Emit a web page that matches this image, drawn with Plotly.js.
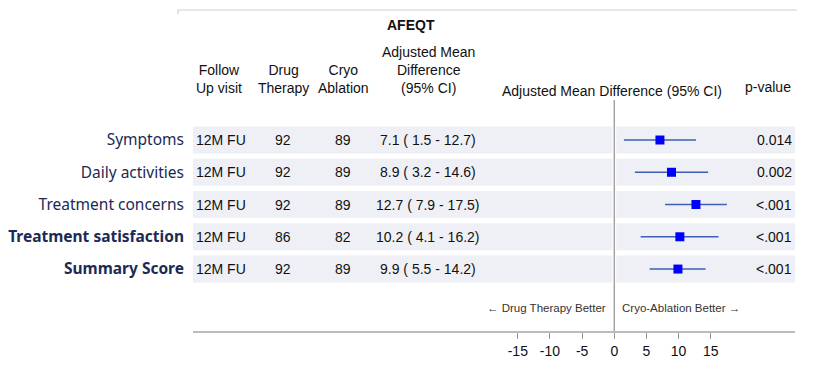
<!DOCTYPE html>
<html><head><meta charset="utf-8">
<script src="https://cdn.plot.ly/plotly-3.0.1.min.js"></script>
<style>html,body{margin:0;padding:0;background:#fff}#chart{width:815px;height:369px}</style>
</head><body><div id="chart"></div>
<script>
const categories = ['Symptoms','Daily activities','Treatment concerns','Treatment satisfaction','Summary Score'];
const boldRows = [false,false,false,true,true];
const followUp = ['12M FU','12M FU','12M FU','12M FU','12M FU'];
const drugN = [92,92,92,86,92];
const cryoN = [89,89,89,82,89];
const meanDiff = [7.1,8.9,12.7,10.2,9.9];
const lowerCI = [1.5,3.2,7.9,4.1,5.5];
const upperCI = [12.7,14.6,17.5,16.2,14.2];
const pValues = ['0.014','0.002','<.001','<.001','<.001'];
const xTicks = [-15,-10,-5,0,5,10,15];

const n = categories.length;
const ys = categories.map((_, i) => n - i);

const W = 815, L = 193, R = 20, T = 100, B = 38;
const plotW = W - L - R, plotH = 369 - T - B;
const px = p => (p - L) / plotW;            // pixel x -> paper x
const py = p => (369 - B - p) / plotH;      // pixel y -> paper y

const tableFont = {family: 'Liberation Sans, Arial, sans-serif', size: 14, color: '#111'};
const headFont = {family: 'Liberation Sans, Arial, sans-serif', size: 14, color: '#111'};
const noteFont = {family: 'Liberation Sans, Arial, sans-serif', size: 11.5, color: '#333'};

const trace = {
  type: 'scatter', mode: 'markers',
  x: meanDiff, y: ys,
  marker: {symbol: 'square', size: 9, color: '#0000ff'},
  error_x: {type: 'data', symmetric: false,
    array: meanDiff.map((m, i) => upperCI[i] - m),
    arrayminus: meanDiff.map((m, i) => m - lowerCI[i]),
    color: '#3d5fb5', thickness: 1.5, width: 0},
  hoverinfo: 'skip', cliponaxis: false
};

const shapes = [];
ys.forEach(y => {
  shapes.push({type: 'rect', xref: 'paper', yref: 'y', x0: 0, x1: px(795), y0: y - 0.42, y1: y + 0.42,
    fillcolor: '#eff0f6', line: {width: 0}, layer: 'below'});
});
shapes.push({type: 'line', xref: 'x', yref: 'paper', x0: 0, x1: 0, y0: 0, y1: 1, line: {color: '#ffffff', width: 4}, layer: 'below'});
shapes.push({type: 'line', xref: 'x', yref: 'paper', x0: 0, x1: 0, y0: 0, y1: 1, line: {color: '#999999', width: 1.3}, layer: 'below'});
shapes.push({type: 'line', xref: 'paper', yref: 'paper', x0: px(178), x1: px(797), y0: py(10), y1: py(10), line: {color: '#d0d0d0', width: 1.2}});
shapes.push({type: 'line', xref: 'paper', yref: 'paper', x0: px(178), x1: px(178), y0: py(10), y1: py(14), line: {color: '#d0d0d0', width: 1.2}});

const ann = [];
ys.forEach((y, i) => {
  ann.push({xref: 'paper', yref: 'y', x: px(194), y: y, text: followUp[i], showarrow: false, xanchor: 'left', yanchor: 'middle', font: tableFont});
  ann.push({xref: 'paper', yref: 'y', x: px(283), y: y, text: String(drugN[i]), showarrow: false, xanchor: 'center', yanchor: 'middle', font: tableFont});
  ann.push({xref: 'paper', yref: 'y', x: px(343), y: y, text: String(cryoN[i]), showarrow: false, xanchor: 'center', yanchor: 'middle', font: tableFont});
  ann.push({xref: 'paper', yref: 'y', x: px(428), y: y, text: `${meanDiff[i]} ( ${lowerCI[i]} - ${upperCI[i]})`, showarrow: false, xanchor: 'center', yanchor: 'middle', font: tableFont});
  ann.push({xref: 'paper', yref: 'y', x: px(794), y: y, text: pValues[i], showarrow: false, xanchor: 'right', yanchor: 'middle', font: tableFont});
});
ann.push({xref: 'paper', yref: 'paper', x: px(411), y: py(25), text: '<b>AFEQT</b>', showarrow: false, xanchor: 'center', yanchor: 'middle', font: headFont});
ann.push({xref: 'paper', yref: 'paper', x: px(219), y: py(79), text: 'Follow<br>Up visit', showarrow: false, xanchor: 'center', yanchor: 'middle', font: headFont});
ann.push({xref: 'paper', yref: 'paper', x: px(283), y: py(79), text: 'Drug<br>Therapy', showarrow: false, xanchor: 'center', yanchor: 'middle', font: headFont});
ann.push({xref: 'paper', yref: 'paper', x: px(343), y: py(79), text: 'Cryo<br>Ablation', showarrow: false, xanchor: 'center', yanchor: 'middle', font: headFont});
ann.push({xref: 'paper', yref: 'paper', x: px(428), y: py(70), text: 'Adjusted Mean<br>Difference<br>(95% CI)', showarrow: false, xanchor: 'center', yanchor: 'middle', font: headFont});
ann.push({xref: 'paper', yref: 'paper', x: px(612), y: py(91), text: 'Adjusted Mean Difference (95% CI)', showarrow: false, xanchor: 'center', yanchor: 'middle', font: headFont});
ann.push({xref: 'paper', yref: 'paper', x: px(768), y: py(87), text: 'p-value', showarrow: false, xanchor: 'center', yanchor: 'middle', font: headFont});
ann.push({xref: 'x', yref: 'paper', x: -0.9, y: py(308), text: '\u2190 Drug Therapy Better', showarrow: false, xanchor: 'right', yanchor: 'middle', font: noteFont});
ann.push({xref: 'x', yref: 'paper', x: 0.9, y: py(308), text: 'Cryo-Ablation Better \u2192', showarrow: false, xanchor: 'left', yanchor: 'middle', font: noteFont});

const layout = {
  width: 815, height: 369,
  margin: {l: L, r: R, t: T, b: B, pad: 0},
  paper_bgcolor: '#fff', plot_bgcolor: 'rgba(0,0,0,0)',
  showlegend: false,
  xaxis: {range: [-65.5, 28.1], tickvals: xTicks, ticktext: xTicks.map(String), showgrid: false, zeroline: false,
    showline: true, linecolor: '#bbbbbb', linewidth: 2, ticks: 'outside', ticklen: 6, tickcolor: '#999', tickwidth: 1,
    tickfont: {family: 'Liberation Sans, Arial, sans-serif', size: 14, color: '#111'}, fixedrange: true},
  yaxis: {range: [-0.92, 6.24], tickvals: ys, ticktext: categories.map((c, i) => boldRows[i] ? '<b>' + c + '</b>' : c),
    showgrid: false, zeroline: false, showline: false, ticks: '', ticklabelstandoff: 8,
    tickfont: {family: 'Noto Sans, sans-serif', size: 15.5, color: '#1b2a55'}, fixedrange: true},
  shapes: shapes, annotations: ann
};

Plotly.newPlot('chart', [trace], layout, {displayModeBar: false, staticPlot: true});
</script></body></html>
